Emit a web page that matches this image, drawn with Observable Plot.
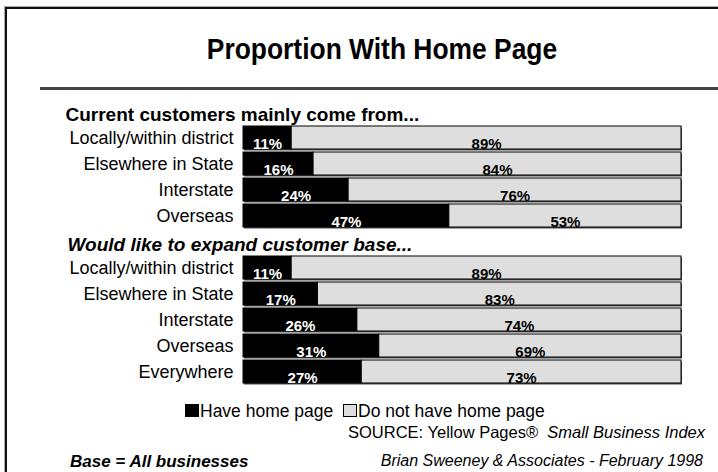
<!DOCTYPE html>
<html><head><meta charset="utf-8">
<script src="https://cdn.jsdelivr.net/npm/d3@7"></script>
<script src="https://cdn.jsdelivr.net/npm/@observablehq/plot@0.6"></script>
<style>
html,body{margin:0;padding:0;background:#fff;overflow:hidden;}
#wrap{position:relative;width:718px;height:472px;overflow:hidden;font-family:"Liberation Sans",Arial,sans-serif;color:#000;}
#frame{position:absolute;left:5px;top:7px;width:800px;height:600px;border-left:2px solid #111;border-top:2px solid #111;box-shadow:-1px -1px 0 #aaa;}
#title{position:absolute;left:0;width:764px;top:32px;text-align:center;font-weight:bold;font-size:30px;line-height:34px;transform:scaleX(0.88);transform-origin:382px 0;}
#rule{position:absolute;left:40px;top:87px;width:700px;height:3px;background:#444;}
#chart{position:absolute;left:0;top:0;}
#legend{position:absolute;top:401px;left:185px;font-size:17.5px;line-height:20px;white-space:nowrap;}
.sw{display:inline-block;width:12px;height:11px;border:1px solid #000;vertical-align:0px;margin-right:1px;}
#source{position:absolute;top:423px;right:13px;font-size:16.5px;line-height:19px;white-space:nowrap;text-align:right;}
#credit{position:absolute;top:452px;right:15px;font-size:16px;line-height:18px;font-style:italic;white-space:nowrap;text-align:right;}
#base{position:absolute;top:452px;left:70px;font-size:17px;line-height:19px;font-style:italic;font-weight:bold;white-space:nowrap;}
</style></head>
<body><div id="wrap">
<div id="chart"></div>
<div id="frame"></div>
<div id="title"></div>
<div id="rule"></div>
<div id="legend"></div>
<div id="source"></div>
<div id="credit"></div>
<div id="base"></div>
</div>
<script>
const chartTitle = "Proportion With Home Page";
const groups = ["Current customers mainly come from...", "Would like to expand customer base..."];
const categories1 = ["Locally/within district", "Elsewhere in State", "Interstate", "Overseas"];
const have1 = [11, 16, 24, 47];
const notHave1 = [89, 84, 76, 53];
const categories2 = ["Locally/within district", "Elsewhere in State", "Interstate", "Overseas", "Everywhere"];
const have2 = [11, 17, 26, 31, 27];
const notHave2 = [89, 83, 74, 69, 73];
const seriesNames = ["Have home page", "Do not have home page"];
const seriesColors = ["#000000", "#dedede"];
const sourceText = ["SOURCE: Yellow Pages®", "Small Business Index"];
const creditText = "Brian Sweeney & Associates - February 1998";
const baseText = "Base = All businesses";

const rows = [];
rows.push({key: "h1", header: groups[0], italic: false});
categories1.forEach((c, i) => rows.push({key: "a" + i, label: c, have: have1[i], not: notHave1[i]}));
rows.push({key: "h2", header: groups[1], italic: true});
categories2.forEach((c, i) => rows.push({key: "b" + i, label: c, have: have2[i], not: notHave2[i]}));
const bars = rows.filter(r => r.label);
const keyLabel = new Map(rows.map(r => [r.key, r.label ?? ""]));
const font = "Liberation Sans, Arial, sans-serif";

const chart = Plot.plot({
  width: 718, height: 400,
  marginLeft: 243, marginRight: 37, marginTop: 0, marginBottom: 0,
  x: {domain: [0, 100], axis: null},
  y: {domain: rows.map(r => r.key), range: [98.7, 385], paddingInner: 0.1266, paddingOuter: 0, align: 0.5, label: null},
  style: {fontFamily: font, background: "none", color: "#000"},
  marks: [
    Plot.barX(bars, {x1: 0, x2: 100, y: "key", fill: "#4a4a4a", dx: 1, dy: 1.5}),
    Plot.barX(bars, {x1: 0, x2: "have", y: "key", fill: seriesColors[0], stroke: "#000"}),
    Plot.barX(bars, {x1: "have", x2: d => d.have + d.not, y: "key", fill: seriesColors[1], stroke: "#000"}),
    Plot.text(bars, {x: d => d.have / 2, y: "key", text: d => d.have + "%", fill: "#fff", fontWeight: "bold", fontSize: 15, dy: 6}),
    Plot.text(bars, {x: d => d.have + d.not / 2, y: "key", text: d => d.not + "%", fill: "#000", fontWeight: "bold", fontSize: 15, dy: 6}),
    Plot.axisY({tickSize: 0, tickPadding: 10, fontSize: 18, tickFormat: k => keyLabel.get(k), color: "#000", label: null}),
    Plot.text(rows.filter(r => r.header && !r.italic), {x: 0, y: "key", text: "header", textAnchor: "start", dx: -178, dy: 3, fontWeight: "bold", fontSize: 19}),
    Plot.text(rows.filter(r => r.header && r.italic), {x: 0, y: "key", text: "header", textAnchor: "start", dx: -176, dy: 3, fontWeight: "bold", fontStyle: "italic", fontSize: 19})
  ]
});
document.getElementById("chart").append(chart);
document.getElementById("title").textContent = chartTitle;
document.getElementById("legend").innerHTML =
  `<span class="sw" style="background:${seriesColors[0]}"></span>${seriesNames[0]}&nbsp;&nbsp;` +
  `<span class="sw" style="background:${seriesColors[1]}"></span>${seriesNames[1]}`;
document.getElementById("source").innerHTML = `${sourceText[0]}&nbsp;&nbsp;<i>${sourceText[1]}</i>`;
document.getElementById("credit").textContent = creditText;
document.getElementById("base").textContent = baseText;
</script>
</body></html>
